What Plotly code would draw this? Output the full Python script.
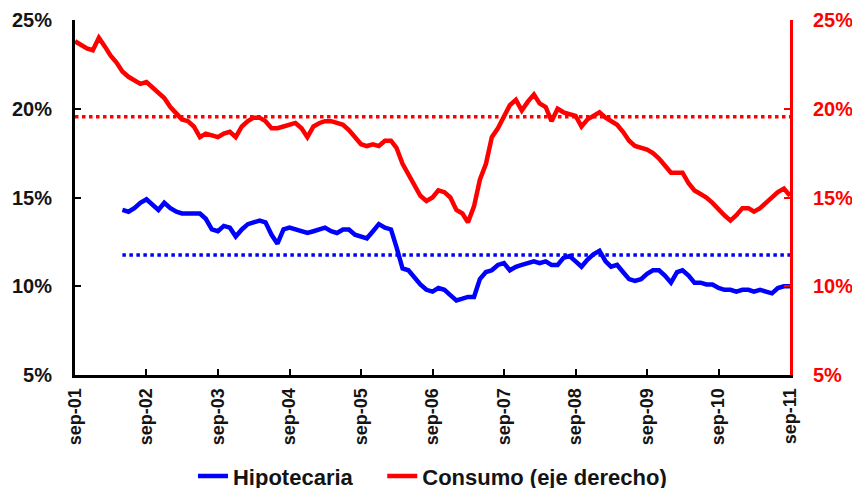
import pandas as pd
import plotly.graph_objects as go

start = "2001-09-01"

consumo = [23.8, 23.6, 23.4, 23.3, 24.0, 23.5, 23.0, 22.6, 22.1, 21.8, 21.6, 21.4,
           21.5, 21.2, 20.9, 20.6, 20.1, 19.7, 19.4, 19.3, 19.0, 18.4, 18.6, 18.5,
           18.4, 18.6, 18.7, 18.4, 19.0, 19.3, 19.5, 19.5, 19.3, 18.9, 18.9, 19.0,
           19.1, 19.2, 18.9, 18.4, 19.0, 19.2, 19.3, 19.3, 19.2, 19.1, 18.8, 18.4,
           18.0, 17.9, 18.0, 17.9, 18.2, 18.2, 17.8, 16.9, 16.3, 15.6, 15.1, 14.8,
           15.0, 15.4, 15.3, 15.0, 14.3, 14.1, 13.6, 14.5, 16.0, 16.9, 18.4, 18.9,
           19.6, 20.2, 20.5, 19.9, 20.4, 20.8, 20.3, 20.1, 19.3, 20.0, 19.8, 19.7,
           19.6, 19.0, 19.4, 19.6, 19.8, 19.5, 19.3, 19.1, 18.7, 18.2, 17.9, 17.8,
           17.7, 17.5, 17.2, 16.8, 16.4, 16.4, 16.4, 15.8, 15.4, 15.2, 15.0, 14.7,
           14.3, 14.0, 13.7, 14.0, 14.4, 14.4, 14.2, 14.4, 14.7, 15.0, 15.3, 15.5,
           15.1]

hipotecaria_start = "2002-05-01"
hipotecaria = [14.3, 14.2, 14.4, 14.7,
               14.9, 14.6, 14.3, 14.7, 14.4, 14.2, 14.1, 14.1, 14.1, 14.1, 13.8, 13.2,
               13.1, 13.4, 13.3, 12.8, 13.2, 13.5, 13.6, 13.7, 13.6, 12.9, 12.4, 13.2,
               13.3, 13.2, 13.1, 13.0, 13.1, 13.2, 13.3, 13.1, 13.0, 13.2, 13.2, 12.9,
               12.8, 12.7, 13.1, 13.5, 13.3, 13.2, 12.2, 11.0, 10.9, 10.5, 10.1, 9.8,
               9.7, 9.9, 9.8, 9.5, 9.2, 9.3, 9.4, 9.4, 10.4, 10.8, 10.9, 11.2,
               11.3, 10.9, 11.1, 11.2, 11.3, 11.4, 11.3, 11.4, 11.2, 11.2, 11.6, 11.7,
               11.4, 11.1, 11.5, 11.8, 12.0, 11.4, 11.1, 11.2, 10.8, 10.4, 10.3, 10.4,
               10.7, 10.9, 10.9, 10.6, 10.2, 10.8, 10.9, 10.6, 10.2, 10.2, 10.1, 10.1,
               9.9, 9.8, 9.8, 9.7, 9.8, 9.8, 9.7, 9.8, 9.7, 9.6, 9.9, 10.0,
               10.0]

promedio_consumo = 19.55
promedio_hipotecaria = 11.76

tick_dates = ["2001-09-01", "2002-09-01", "2003-09-01", "2004-09-01", "2005-09-01",
              "2006-09-01", "2007-09-01", "2008-09-01", "2009-09-01", "2010-09-01",
              "2011-09-01"]
tick_labels = ["sep-01", "sep-02", "sep-03", "sep-04", "sep-05", "sep-06",
               "sep-07", "sep-08", "sep-09", "sep-10", "sep-11"]
y_ticks = [5, 10, 15, 20, 25]
y_labels = ["5%", "10%", "15%", "20%", "25%"]

dates_c = pd.date_range(start, periods=len(consumo), freq="MS")
dates_h = pd.date_range(hipotecaria_start, periods=len(hipotecaria), freq="MS")

BLUE = "#0000FF"
RED = "#FF0000"
FONT = "Liberation Sans, Arial"
TXT = "#141414"
PAD = "\u00a0" * 4

fig = go.Figure()
fig.add_trace(go.Scatter(x=dates_h, y=[promedio_hipotecaria] * len(dates_h), mode="lines",
                         line=dict(color=BLUE, width=3.5, dash="dot"), showlegend=False,
                         hoverinfo="skip"))
fig.add_trace(go.Scatter(x=dates_c, y=[promedio_consumo] * len(dates_c), mode="lines",
                         line=dict(color=RED, width=3.5, dash="dot"), showlegend=False,
                         yaxis="y2", hoverinfo="skip"))
fig.add_trace(go.Scatter(x=dates_h, y=hipotecaria, mode="lines", name="Hipotecaria" + PAD,
                         line=dict(color=BLUE, width=4.5)))
fig.add_trace(go.Scatter(x=dates_c, y=consumo, mode="lines", name="Consumo (eje derecho)",
                         line=dict(color=RED, width=4.5), yaxis="y2"))

fig.update_layout(
    width=860, height=488,
    margin=dict(l=67, r=78, t=12, b=121, autoexpand=False),
    paper_bgcolor="white", plot_bgcolor="white",
    font=dict(family=FONT, size=16, color=TXT, weight="bold"),
    xaxis=dict(
        range=[dates_c[0], dates_c[-1]],
        tickvals=pd.to_datetime(tick_dates), ticktext=tick_labels,
        tickangle=-90, showgrid=False, zeroline=False,
        showline=True, linecolor="black", linewidth=3,
        ticks="inside", ticklen=6, tickwidth=2, tickcolor="black",
        tickfont=dict(family=FONT, size=18, color=TXT, weight="bold"),
        ticklabelstandoff=3,
    ),
    yaxis=dict(
        range=[5, 25], tickvals=y_ticks, ticktext=y_labels,
        showgrid=False, zeroline=False,
        showline=True, linecolor="black", linewidth=3,
        ticks="inside", ticklen=6, tickwidth=2, tickcolor="black",
        tickfont=dict(family=FONT, size=20, color=TXT, weight="bold"),
        ticklabelstandoff=16,
    ),
    yaxis2=dict(
        range=[5, 25], tickvals=y_ticks, ticktext=y_labels,
        overlaying="y", side="right", anchor="x",
        showgrid=False, zeroline=False,
        showline=True, linecolor=RED, linewidth=3,
        ticks="inside", ticklen=6, tickwidth=2, tickcolor=RED,
        tickfont=dict(family=FONT, size=20, color=RED, weight="bold"),
        ticklabelstandoff=16,
    ),
    legend=dict(orientation="h", x=0.165, xanchor="left", y=-0.285, yanchor="middle",
                font=dict(family=FONT, size=22, color=TXT, weight="bold"),
                itemwidth=30, bgcolor="rgba(0,0,0,0)"),
)

fig.write_html("out.html")
